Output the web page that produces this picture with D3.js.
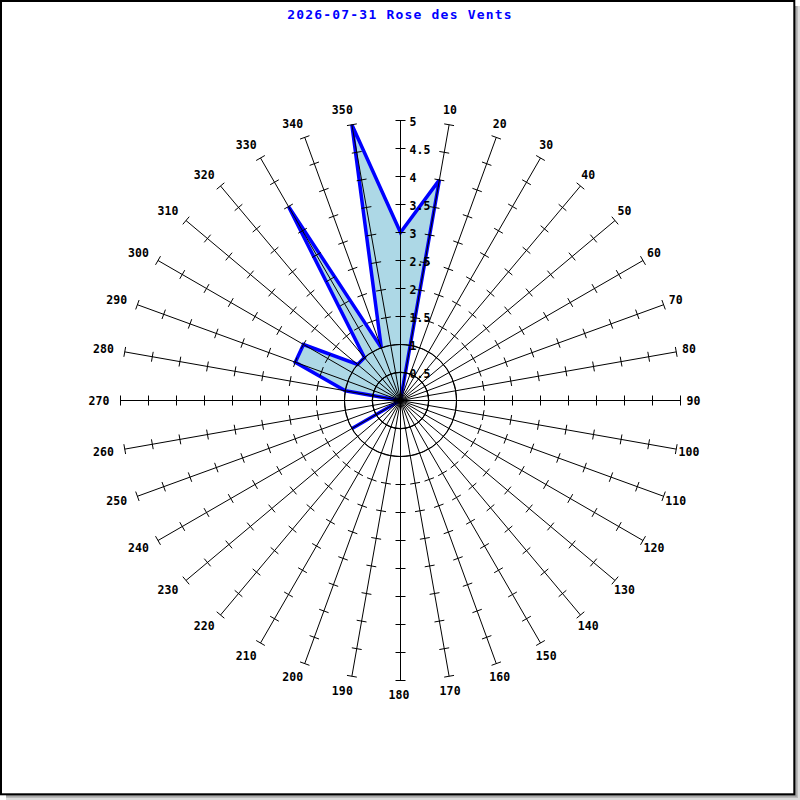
<!DOCTYPE html>
<html>
<head>
<meta charset="utf-8">
<script src="https://cdn.jsdelivr.net/npm/d3@7"></script>
<style>
html,body{margin:0;padding:0;background:#fff;}
svg{display:block;}
</style>
</head>
<body>
<svg id="chart" width="800" height="800"></svg>
<script>
// ---- data ----
const title = "2026-07-31 Rose des Vents";
const directions = d3.range(0, 360, 10); // degrees
const values = [
  3, 4, 0, 0, 0, 0, 0, 0, 0, 0,   // 0..90
  0, 0, 0, 0, 0, 0, 0, 0, 0, 0,   // 100..190
  0, 0, 0, 0, 1, 0, 0, 0, 1, 2,   // 200..290
  2, 1, 1, 4, 1, 5                // 300..350
];
const radialTicks = [0.5, 1, 1.5, 2, 2.5, 3, 3.5, 4, 4.5, 5];
const radialTickLabels = ["0.5", "1", "1.5", "2", "2.5", "3", "3.5", "4", "4.5", "5"];
const gridCircles = [0.5, 1];
const maxValue = 5;

// ---- layout ----
const svg = d3.select("#chart");
const cx = 400.5, cy = 400.5, R = 280;
const r = d3.scaleLinear().domain([0, maxValue]).range([0, R]);
const ang = d3.scaleLinear().domain([0, 360]).range([0, 2 * Math.PI]);

// frame with shadow
svg.append("rect").attr("x", 795).attr("y", 6).attr("width", 5).attr("height", 794).attr("fill", "#ddd");
svg.append("rect").attr("x", 6).attr("y", 795).attr("width", 794).attr("height", 5).attr("fill", "#ddd");
svg.append("rect").attr("x", 795).attr("y", 6).attr("width", 3).attr("height", 792).attr("fill", "#bbb");
svg.append("rect").attr("x", 6).attr("y", 795).attr("width", 792).attr("height", 3).attr("fill", "#bbb");
svg.append("rect").attr("x", 795).attr("y", 6).attr("width", 1.5).attr("height", 790.5).attr("fill", "#999");
svg.append("rect").attr("x", 6).attr("y", 795).attr("width", 790.5).attr("height", 1.5).attr("fill", "#999");
svg.append("rect").attr("x", 1).attr("y", 1).attr("width", 793.3).attr("height", 793.3)
  .attr("fill", "#fff").attr("stroke", "#000").attr("stroke-width", 2);

// title
svg.append("text").attr("x", 400).attr("y", 19)
  .attr("text-anchor", "middle")
  .attr("font-family", "DejaVu Sans Mono, monospace")
  .attr("font-weight", "bold")
  .attr("font-size", 13).attr("letter-spacing", 1.2)
  .attr("fill", "#0000ff").text(title);

const g = svg.append("g").attr("transform", `translate(${cx},${cy})`);

// polygon (data)
const radial = d3.lineRadial()
  .angle((d, i) => ang(directions[i]))
  .radius(d => r(d))
  .curve(d3.curveLinearClosed);
g.append("path").datum(values)
  .attr("d", radial)
  .attr("fill", "#add8e6")
  .attr("stroke", "#0000ff")
  .attr("stroke-width", 3.5)
  .attr("stroke-linejoin", "miter");

// grid circles
g.selectAll("circle.grid").data(gridCircles).enter().append("circle")
  .attr("r", d => r(d)).attr("fill", "none").attr("stroke", "#000").attr("stroke-width", 1);

// spokes
const dir = a => [Math.sin(ang(a)), -Math.cos(ang(a))];
g.selectAll("line.spoke").data(directions).enter().append("line")
  .attr("x1", 0).attr("y1", 0)
  .attr("x2", a => dir(a)[0] * r(maxValue))
  .attr("y2", a => dir(a)[1] * r(maxValue))
  .attr("stroke", "#000").attr("stroke-width", 1);

// tick marks on every spoke
const tickData = [];
directions.forEach(a => radialTicks.forEach(v => tickData.push({a, v})));
const th = 5;
g.selectAll("line.tick").data(tickData).enter().append("line")
  .attr("x1", d => dir(d.a)[0] * r(d.v) - Math.cos(ang(d.a)) * th)
  .attr("y1", d => dir(d.a)[1] * r(d.v) - Math.sin(ang(d.a)) * th)
  .attr("x2", d => dir(d.a)[0] * r(d.v) + Math.cos(ang(d.a)) * th)
  .attr("y2", d => dir(d.a)[1] * r(d.v) + Math.sin(ang(d.a)) * th)
  .attr("stroke", "#000").attr("stroke-width", 1);

// radial value labels along 0 axis
g.selectAll("text.rl").data(radialTicks).enter().append("text")
  .attr("x", 9).attr("y", d => -r(d) + 5)
  .attr("font-family", "DejaVu Sans Mono, monospace")
  .attr("font-weight", "bold").attr("font-size", 11.5).attr("letter-spacing", 0.1)
  .attr("fill", "#000")
  .text((d, i) => radialTickLabels[i]);

// direction labels
const labelDirs = directions.filter(a => a !== 0);
g.selectAll("text.dl").data(labelDirs).enter().append("text")
  .attr("x", a => dir(a)[0] * (R + 14.5) + (a > 180 ? -7 : -1.5))
  .attr("y", a => dir(a)[1] * (R + 14.5) + 4)
  .attr("text-anchor", "middle")
  .attr("font-family", "DejaVu Sans Mono, monospace")
  .attr("font-weight", "bold").attr("font-size", 11.5).attr("letter-spacing", 0.1)
  .attr("fill", "#000")
  .text(a => String(a));
</script>
</body>
</html>
